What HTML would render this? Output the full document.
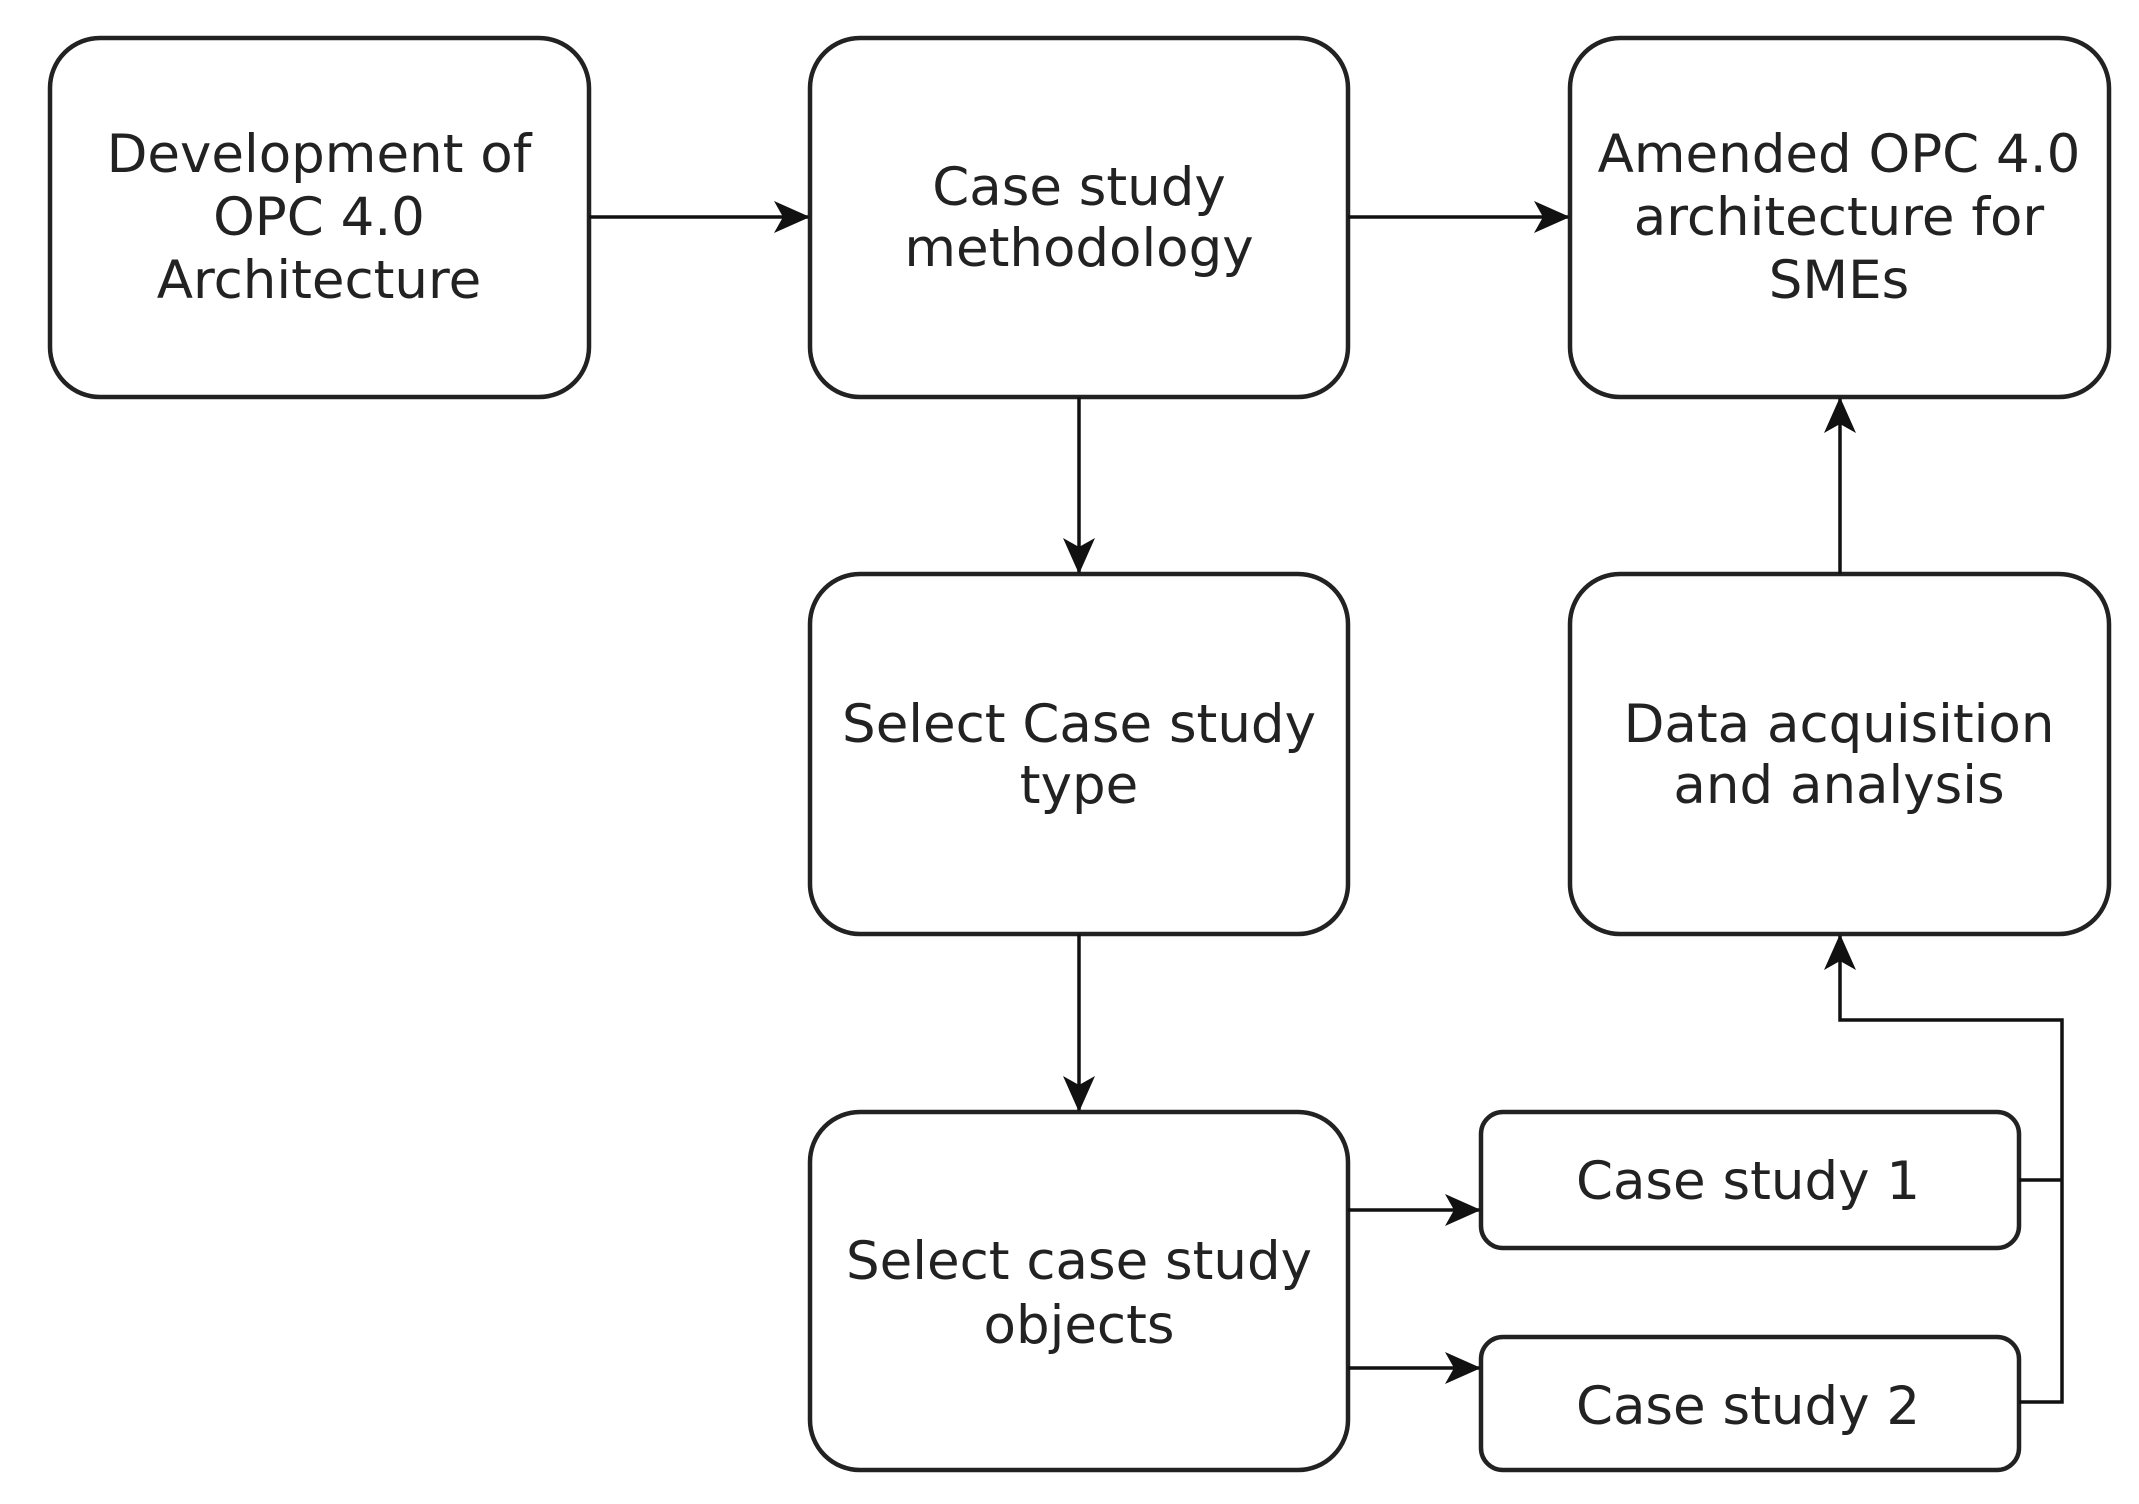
<!DOCTYPE html>
<html><head><meta charset="utf-8"><style>
html,body{margin:0;padding:0;background:#fff;}
svg{display:block}
text{font-family:"DejaVu Sans","Liberation Sans",sans-serif;font-size:53px;fill:#222;text-anchor:middle}
</style></head><body>
<svg width="2139" height="1504" viewBox="0 0 2139 1504" xmlns="http://www.w3.org/2000/svg">
<defs>
<marker id="b" markerWidth="36" markerHeight="36" refX="34" refY="18" orient="auto" markerUnits="userSpaceOnUse" viewBox="0 0 36 36"><path d="M0,2 L36,18 L0,34 L9,18 Z" fill="#111"/></marker></defs>
<g fill="#fff" stroke="#222" stroke-width="4.5">
<rect x="50" y="38" width="539" height="359" rx="50"/>
<rect x="810" y="38" width="538" height="359" rx="50"/>
<rect x="1570" y="38" width="539" height="359" rx="50"/>
<rect x="810" y="574" width="538" height="360" rx="50"/>
<rect x="1570" y="574" width="539" height="360" rx="50"/>
<rect x="810" y="1112" width="538" height="358" rx="50"/>
<rect x="1481" y="1112" width="538" height="136" rx="22"/>
<rect x="1481" y="1337" width="538" height="133" rx="22"/>
</g>
<g stroke="#111" stroke-width="3.5" fill="none">
<line x1="589" y1="217" x2="808" y2="217" marker-end="url(#b)"/>
<line x1="1348" y1="217" x2="1568" y2="217" marker-end="url(#b)"/>
<line x1="1079" y1="397" x2="1079" y2="572" marker-end="url(#b)"/>
<line x1="1079" y1="934" x2="1079" y2="1110" marker-end="url(#b)"/>
<line x1="1840" y1="574" x2="1840" y2="399" marker-end="url(#b)"/>
<line x1="1348" y1="1210" x2="1479" y2="1210" marker-end="url(#b)"/>
<line x1="1348" y1="1368" x2="1479" y2="1368" marker-end="url(#b)"/>
<path d="M2019,1180 H2062 M2019,1402 H2062 V1020 H1840 V936" marker-end="url(#b)"/>
</g>
<text x="319" y="172">Development of</text>
<text x="319" y="235">OPC 4.0</text>
<text x="319" y="298">Architecture</text>
<text x="1079" y="205">Case study</text>
<text x="1079" y="266">methodology</text>
<text x="1839" y="172">Amended OPC 4.0</text>
<text x="1839" y="235">architecture for</text>
<text x="1839" y="298">SMEs</text>
<text x="1079" y="742">Select Case study</text>
<text x="1079" y="803">type</text>
<text x="1839" y="742">Data acquisition</text>
<text x="1839" y="803">and analysis</text>
<text x="1079" y="1279">Select case study</text>
<text x="1079" y="1343">objects</text>
<text x="1748" y="1199">Case study 1</text>
<text x="1748" y="1424">Case study 2</text>
</svg>
</body></html>
